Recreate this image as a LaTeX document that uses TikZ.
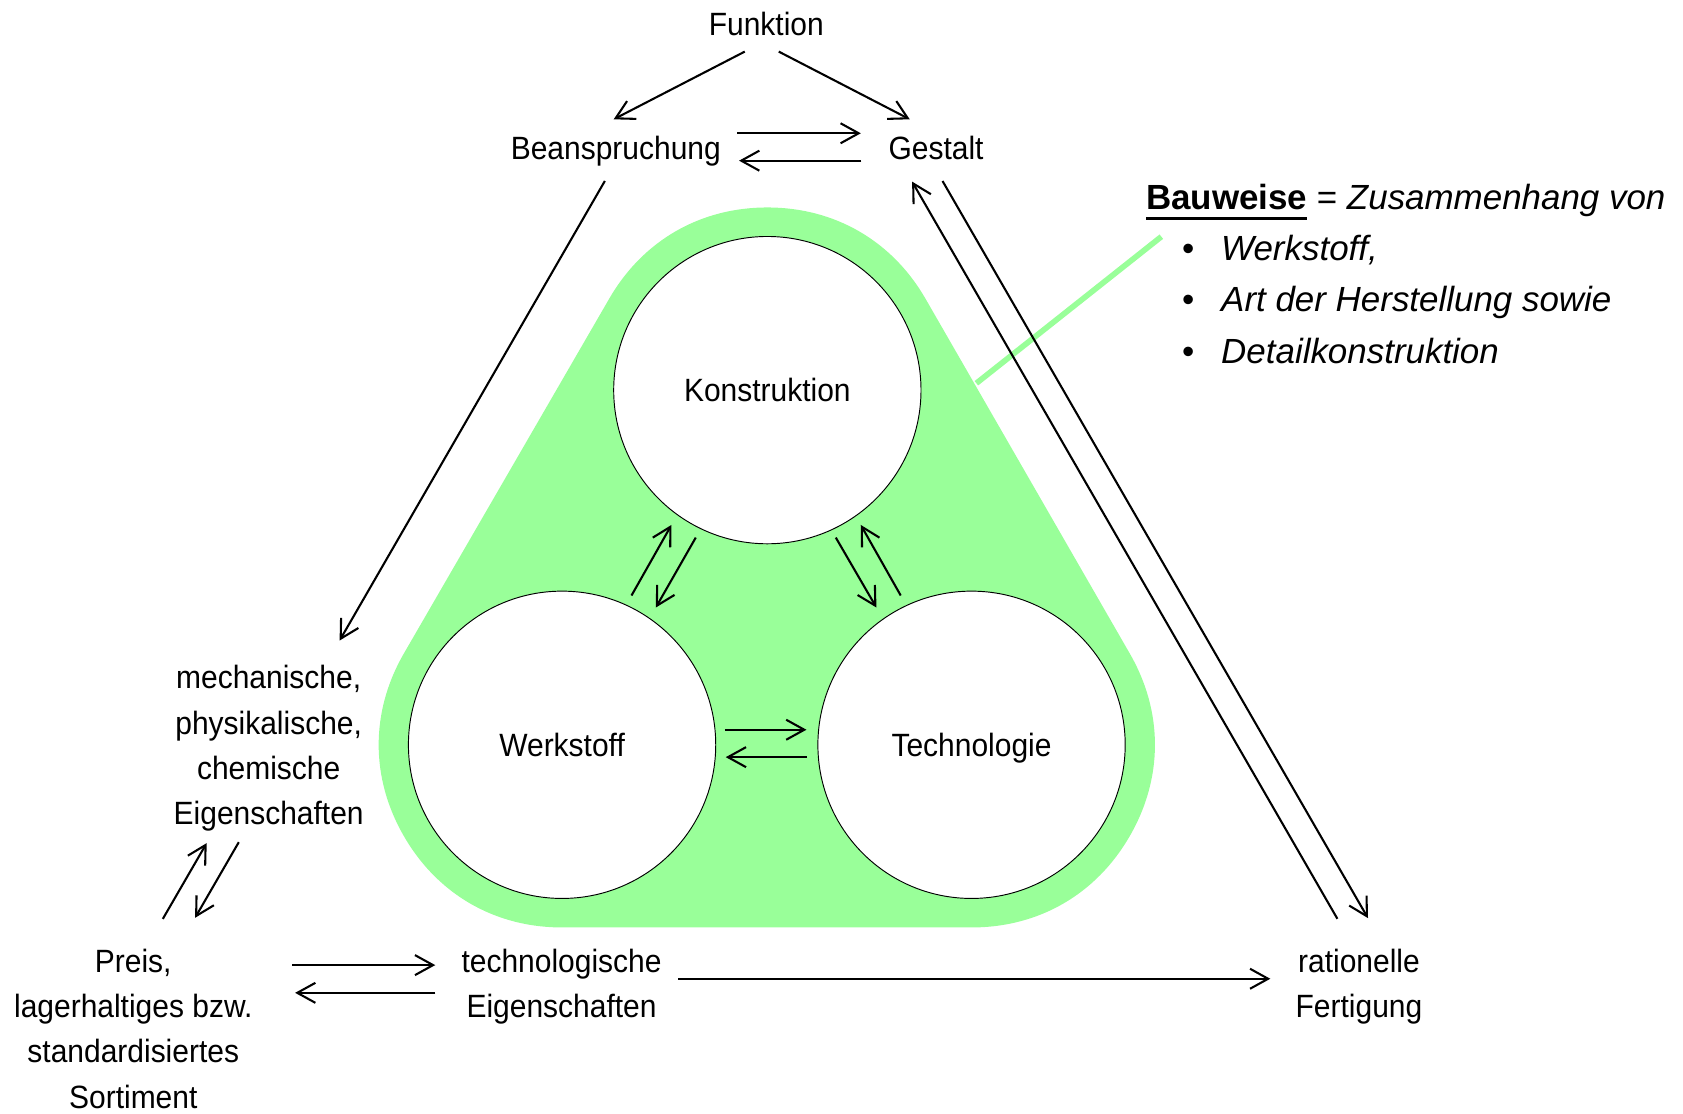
\documentclass[tikz,border=0pt]{standalone}
\usepackage{fontspec}
\setmainfont{Liberation Sans}
\newfontfamily\labfont{Liberation Sans}[FakeStretch=0.93]
\usetikzlibrary{arrows.meta}
\definecolor{bwgreen}{RGB}{153,255,153}
\newcommand\bwuline[1]{\setbox0\hbox{#1}\rlap{\rule[-5.5pt]{\wd0}{1.3pt}}\box0\relax}
\tikzset{
  conn/.style={line width=1.1pt, -{Straight Barb[length=9.6pt,width=10.6pt]}},
  lab/.style={inner sep=0pt, anchor=base, font=\labfont\fontsize{17.07}{23.9}\selectfont},
  circ/.style={circle, draw=black, line width=0.5pt, fill=white, minimum size=5.72cm,
    inner sep=0pt, text height=12.2pt, text depth=0pt,
    font=\labfont\fontsize{17.07}{23.9}\selectfont},
  bwtext/.style={inner sep=0pt, anchor=base west, font=\fontsize{18.5}{27.2}\selectfont},
  bwline/.style={draw=bwgreen, line width=3pt},
  blob/.style={draw=bwgreen, fill=bwgreen, line width=6.8cm, line join=round}
}
\begin{document}
\begin{tikzpicture}[x=0.02cm, y=-0.02cm]
\useasboundingbox (0,0) rectangle (1566,1036);

% green rounded triangle (hull of the three circles)
\coordinate (cK) at (714,363);
\coordinate (cW) at (523,693);
\coordinate (cT) at (904,693);
\path[blob] (cK) -- (cW) -- (cT) -- cycle;

% Bauweise pointer line
\coordinate (g1) at (1080.6,220.2);
\coordinate (g2) at (908.5,356.6);
\draw[bwline] (g1) -- (g2);

% circles
\node[circ] (K) at (cK) {Konstruktion};
\node[circ] (W) at (cW) {Werkstoff};
\node[circ] (T) at (cT) {Technologie};

% labels
\node[lab] (fkt) at (713,32.6) {Funktion};
\node[lab] (bea) at (573,148) {Beanspruchung};
\node[lab] (ges) at (871,148) {Gestalt};
\node[lab] (mech) at (250,641) {\begin{tabular}[t]{@{}c@{}}mechanische,\\physikalische,\\chemische\\Eigenschaften\end{tabular}};
\node[lab] (preis) at (124,905) {\begin{tabular}[t]{@{}c@{}}Preis,\\lagerhaltiges bzw.\\standardisiertes\\Sortiment\end{tabular}};
\node[lab] (techn) at (522.5,905) {\begin{tabular}[t]{@{}c@{}}technologische\\Eigenschaften\end{tabular}};
\node[lab] (ration) at (1264.5,905) {\begin{tabular}[t]{@{}c@{}}rationelle\\Fertigung\end{tabular}};

\node[bwtext] (bw) at (1066,194.6) {\begin{tabular}[t]{@{}l@{}}%
\bwuline{\textbf{Bauweise}} = \textit{Zusammenhang von}\\
\hspace*{0.672cm}\textbullet\hspace*{0.5cm}\textit{Werkstoff,}\\
\hspace*{0.672cm}\textbullet\hspace*{0.5cm}\textit{Art der Herstellung sowie}\\
\hspace*{0.672cm}\textbullet\hspace*{0.5cm}\textit{Detailkonstruktion}\end{tabular}};

% connector end points
\coordinate (a1s) at (693,48);      \coordinate (a1e) at (571,111);
\coordinate (a2s) at (724.6,48);    \coordinate (a2e) at (846.5,111);
\coordinate (a3s) at (686,124);     \coordinate (a3e) at (801,124);
\coordinate (a4s) at (801.6,149.5); \coordinate (a4e) at (687.7,149.5);
\coordinate (a5s) at (562.8,168.4); \coordinate (a5e) at (316,596);
\coordinate (a6s) at (1244.4,854.9);\coordinate (a6e) at (848.7,169);
\coordinate (a7s) at (877,168.4);   \coordinate (a7e) at (1272.9,854.3);
\coordinate (a8s) at (222.2,783.6); \coordinate (a8e) at (181.5,854);
\coordinate (a9s) at (151.5,855);   \coordinate (a9e) at (192.3,784.5);
\coordinate (a10s) at (272,898);    \coordinate (a10e) at (405,898);
\coordinate (a11s) at (405,923.8);  \coordinate (a11e) at (274.6,923.8);
\coordinate (a12s) at (631,910.7);  \coordinate (a12e) at (1182,910.7);
\coordinate (b1s) at (587.6,554.1); \coordinate (b1e) at (624.8,488.4);
\coordinate (b2s) at (647.4,500.2); \coordinate (b2e) at (610.2,565.3);
\coordinate (b3s) at (777.7,500.2); \coordinate (b3e) at (815.5,565.3);
\coordinate (b4s) at (838.1,554.1); \coordinate (b4e) at (800.9,488.4);
\coordinate (b5s) at (674.4,679);   \coordinate (b5e) at (750.4,679);
\coordinate (b6s) at (751,704.5);   \coordinate (b6e) at (675.3,704.5);

% connectors
\draw[conn] (a1s) -- (a1e);
\draw[conn] (a2s) -- (a2e);
\draw[conn] (a3s) -- (a3e);
\draw[conn] (a4s) -- (a4e);
\draw[conn] (a5s) -- (a5e);
\draw[conn] (a6s) -- (a6e);
\draw[conn] (a7s) -- (a7e);
\draw[conn] (a8s) -- (a8e);
\draw[conn] (a9s) -- (a9e);
\draw[conn] (a10s) -- (a10e);
\draw[conn] (a11s) -- (a11e);
\draw[conn] (a12s) -- (a12e);
\draw[conn] (b1s) -- (b1e);
\draw[conn] (b2s) -- (b2e);
\draw[conn] (b3s) -- (b3e);
\draw[conn] (b4s) -- (b4e);
\draw[conn] (b5s) -- (b5e);
\draw[conn] (b6s) -- (b6e);
\end{tikzpicture}
\end{document}
